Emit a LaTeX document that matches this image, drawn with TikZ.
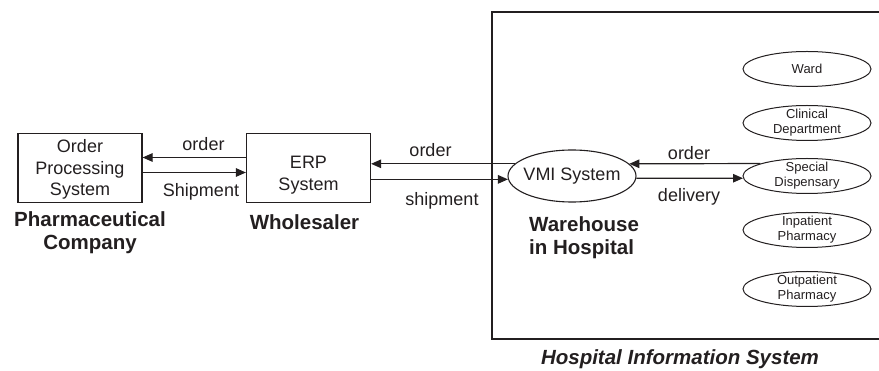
\documentclass[tikz,border=0pt]{standalone}
\usepackage{fontspec}
\setmainfont{Liberation Sans}
\usetikzlibrary{arrows.meta,shapes.geometric}
\definecolor{ink}{RGB}{35,31,32}
\newcommand\labfont{\fontsize{18}{21.5}\selectfont}
\newcommand\headfont{\fontsize{20.5}{23}\selectfont\bfseries}
\newcommand\smallfont{\fontsize{13}{15}\selectfont}
\tikzset{
  every node/.style={text=ink},
  sysbox/.style={draw=ink, line width=1.2pt, rectangle, minimum width=124pt,
    minimum height=69pt, inner sep=0pt},
  boxtext/.style={font=\labfont, align=center, inner sep=0pt},
  bigoval/.style={draw=ink, line width=1.1pt, ellipse, minimum width=128pt,
    minimum height=52pt, inner xsep=-20pt, inner ysep=-20pt, font=\labfont},
  unitoval/.style={draw=ink, line width=1pt, ellipse, minimum width=128pt,
    minimum height=35pt, inner xsep=-20pt, inner ysep=-20pt, align=center,
    font=\smallfont},
  flow/.style={draw=ink, line width=1.2pt, -{Triangle[length=10pt,width=8.5pt]}},
  flowlabel/.style={font=\labfont, anchor=base, inner sep=0pt},
  heading/.style={font=\headfont, align=center, inner sep=0pt},
}
\begin{document}
\begin{tikzpicture}[x=1pt, y=-1pt]
\useasboundingbox (0,0) rectangle (879,371);

% hospital information system frame (open to the right)
\draw[draw=ink, line width=1.2pt] (890,12) -- (492,12) -- (492,339) -- (890,339);

% systems
\node[sysbox, label={[boxtext, yshift=-1.5pt]center:Order\\Processing\\System}]
  (ops) at (80,168) {};
\node[sysbox, label={[boxtext, yshift=-7pt]center:ERP\\System}]
  (erp) at (308.5,168) {};
\node[bigoval] (vmi) at (572,176) {VMI System};

% hospital units
\node[unitoval] (ward) at (807,69) {Ward};
\node[unitoval] (clin) at (807,123) {Clinical\\Department};
\node[unitoval] (spec) at (807,176) {Special\\Dispensary};
\node[unitoval] (inpt) at (807,230) {Inpatient\\Pharmacy};
\node[unitoval] (outp) at (807,289) {Outpatient\\Pharmacy};

% flows between company and wholesaler
\draw[flow] ([yshift=10.5pt]erp.west) -- ([yshift=10.5pt]ops.east);
\draw[flow] ([yshift=-4.5pt]ops.east) -- ([yshift=-4.5pt]erp.west);
\node[flowlabel] (o1) at (203.5,151) {order};
\node[flowlabel] (s1) at (201,196.5) {Shipment};

% flows between wholesaler and warehouse
\draw[flow] (vmi.168) -- (erp.east |- vmi.168);
\draw[flow] (erp.east |- vmi.-177.3) -- (vmi.-177.3);
\node[flowlabel] (o2) at (430.5,156.5) {order};
\node[flowlabel] (s2) at (442,206) {shipment};

% flows between warehouse and dispensary (border angles chosen so both stay level)
\draw[flow] (spec.165.6) -- (vmi.12);
\draw[flow] (vmi.-2.7) -- (spec.182.74);
\node[flowlabel] (o3) at (689,160) {order};
\node[flowlabel] (d3) at (689,202) {delivery};

% party captions
\node[heading] (pharma) at (90,233) {Pharmaceutical\\Company};
\node[heading, anchor=base] (whole) at (304.5,230) {Wholesaler};
\node[heading, align=left, anchor=west] (wh) at (529,238) {Warehouse\\in Hospital};
\node[font=\headfont\itshape, anchor=base, inner sep=0pt] (his) at (680,365)
  {Hospital Information System};
\end{tikzpicture}
\end{document}
